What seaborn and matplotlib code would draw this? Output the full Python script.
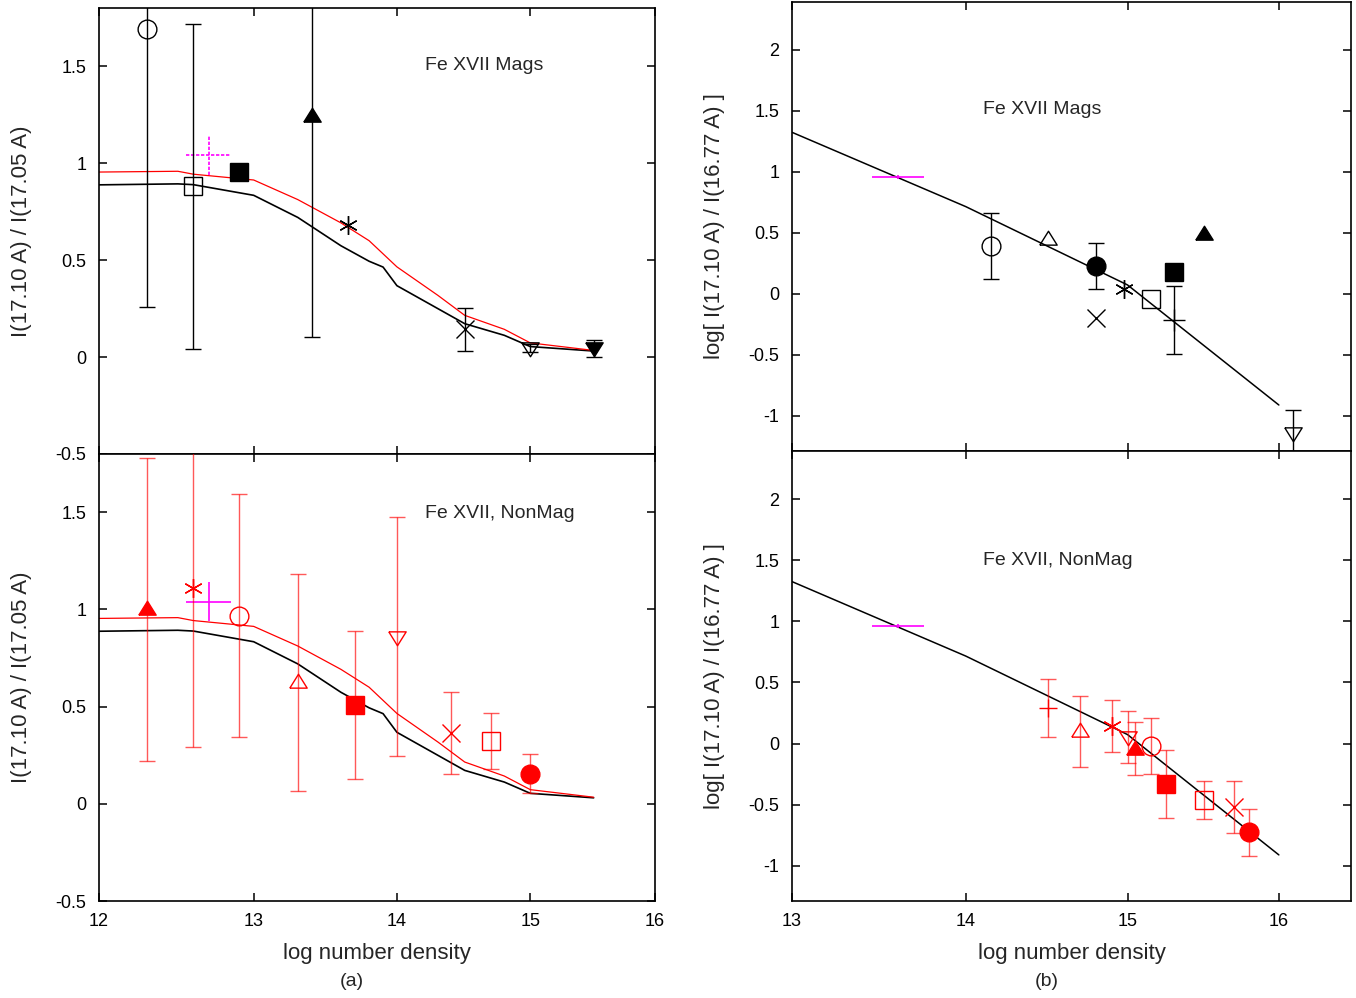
import matplotlib
matplotlib.use("Agg")
import matplotlib.pyplot as plt
from matplotlib.ticker import FixedLocator, NullLocator, FuncFormatter
import seaborn as sns

# ---------------- model curves ----------------
# panel (a): I(17.10)/I(17.05) versus log density
model_a_black_x = [12.0, 12.5, 12.6, 13.0, 13.3, 13.6, 13.8, 13.9, 14.0, 14.5, 14.8, 15.0, 15.5]
model_a_black_y = [0.888, 0.893, 0.889, 0.834, 0.720, 0.574, 0.494, 0.464, 0.368, 0.172, 0.112, 0.054, 0.031]
model_a_red_x = [12.0, 12.5, 12.6, 13.0, 13.3, 13.6, 13.8, 14.0, 14.3, 14.5, 14.8, 15.0, 15.5]
model_a_red_y = [0.954, 0.958, 0.943, 0.913, 0.812, 0.692, 0.600, 0.465, 0.318, 0.215, 0.143, 0.073, 0.034]

# panel (b): log ratio I(17.10)/I(16.77)
model_b_x = [13.0, 14.0, 15.0, 16.0]
model_b_y = [1.325, 0.716, 0.074, -0.91]

# ---------------- observed stars ----------------
# (a) magnetic stars
mag_a_x = [12.3, 12.6, 12.9, 13.4, 13.65, 14.5, 15.0, 15.5]
mag_a_y = [1.69, 0.88, 0.955, 1.245, 0.68, 0.143, 0.045, 0.045]
mag_a_err = [1.43, 0.84, 0.0, 1.14, 0.0, 0.11, 0.02, 0.045]

# (a) non-magnetic stars
non_a_x = [12.3, 12.6, 12.9, 13.3, 13.7, 14.0, 14.4, 14.7, 15.0]
non_a_y = [1.0, 1.11, 0.968, 0.625, 0.51, 0.86, 0.364, 0.323, 0.155]
non_a_err = [0.78, 0.82, 0.625, 0.56, 0.38, 0.615, 0.21, 0.145, 0.10]

# (b) magnetic stars
mag_b_x = [14.15, 14.5, 14.8, 14.8, 14.98, 15.15, 15.3, 15.3, 15.5, 16.1]
mag_b_y = [0.396, 0.448, 0.23, -0.2, 0.038, -0.044, 0.183, -0.215, 0.492, -1.137]
mag_b_err = [0.27, 0.0, 0.186, 0.0, 0.0, 0.0, 0.0, 0.279, 0.0, 0.19]

# (b) non-magnetic stars
non_b_x = [14.5, 14.7, 14.9, 15.0, 15.05, 15.15, 15.25, 15.5, 15.7, 15.8]
non_b_y = [0.29, 0.10, 0.145, 0.055, -0.04, -0.02, -0.33, -0.459, -0.517, -0.725]
non_b_err = [0.236, 0.29, 0.21, 0.21, 0.22, 0.227, 0.28, 0.156, 0.21, 0.19]

# solar reference point (magenta)
sun_a_x, sun_a_y, sun_a_xerr, sun_a_yerr = 12.7, 1.04, 0.15, 0.10
sun_b_x, sun_b_y, sun_b_xerr, sun_b_yerr = 13.6, 0.96, 0.15, 0.015

# ---------------- symbol styles ----------------
AST = (6, 2, 0)
TUP = [(-1, -0.65), (1, -0.65), (0, 0.95), (-1, -0.65)]
TDN = [(-1, 0.65), (1, 0.65), (0, -0.95), (-1, 0.65)]
mag_a_sym = [("o", False), ("s", False), ("s", True), (TUP, True), (AST, False),
             ("x", False), (TDN, False), (TDN, True)]
non_a_sym = [(TUP, True), (AST, False), ("o", False), (TUP, False), ("s", True),
             (TDN, False), ("x", False), ("s", False), ("o", True)]
mag_b_sym = [("o", False), (TUP, False), ("o", True), ("x", False), (AST, False),
             ("s", False), ("s", True), ("+", False), (TUP, True), (TDN, False)]
non_b_sym = [("+", False), (TUP, False), (AST, False), (TDN, False), (TUP, True),
             ("o", False), ("s", True), ("s", False), ("x", False), ("o", True)]

sns.set_theme(style="ticks")
plt.rcParams["font.family"] = ["Liberation Sans", "DejaVu Sans"]
plt.rcParams["axes.unicode_minus"] = False

W, H = 1356, 998
fig = plt.figure(figsize=(W / 100, H / 100), dpi=100)
fig.patch.set_facecolor("white")


def axes_px(x0, y0, x1, y1):
    return fig.add_axes([x0 / W, 1 - y1 / H, (x1 - x0) / W, (y1 - y0) / H])


ax_a_top = axes_px(99, 8, 655, 454)
ax_a_bot = axes_px(99, 454, 655, 901)
ax_b_top = axes_px(792, 2, 1351, 451)
ax_b_bot = axes_px(792, 451, 1351, 901)

fmt = FuncFormatter(lambda v, p: "%g" % v)


def style_axes(ax, xlim, xticks, ylim, yticks, show_xlabels):
    ax.set_facecolor("white")
    ax.set_xscale("log")
    ax.set_xlim(*xlim)
    ax.set_ylim(*ylim)
    ax.xaxis.set_major_locator(FixedLocator(xticks))
    ax.xaxis.set_minor_locator(NullLocator())
    ax.xaxis.set_major_formatter(fmt)
    ax.yaxis.set_major_locator(FixedLocator(yticks))
    ax.yaxis.set_minor_locator(NullLocator())
    ax.yaxis.set_major_formatter(fmt)
    ax.tick_params(which="major", direction="in", length=6, width=1.1,
                   top=True, right=True, labelsize=13, pad=9, colors="black")
    if not show_xlabels:
        ax.tick_params(labelbottom=False)
    for s in ax.spines.values():
        s.set_linewidth(1.2)
        s.set_color("black")
    ax.grid(False)


def draw_points(ax, xs, ys, errs, syms, color, ecolor, ealpha):
    for x, y, e, (m, filled) in zip(xs, ys, errs, syms):
        ms = 13.5
        if isinstance(m, list):
            ms = 12.5
        if m == "+":
            ms = 16 if color == "black" else 13
        if e > 0:
            ax.errorbar(x, y, yerr=e, fmt="none", ecolor=ecolor, alpha=ealpha,
                        elinewidth=1.0, capsize=5.5, capthick=1.0, zorder=3)
        ax.plot([x], [y], linestyle="none", marker=m, ms=ms,
                mfc=color if filled else "none", mec=color, mew=1.0, zorder=4)


def draw_sun(ax, x, y, xerr, yerr, ls):
    eb = ax.errorbar(x, y, xerr=xerr, yerr=yerr, fmt="none", ecolor="#ff00ff",
                     elinewidth=1.2, capsize=0, zorder=3)
    for lc in eb[2]:
        lc.set_linestyle(ls)


# panel (a)
for ax, label in [(ax_a_top, "Fe XVII Mags"), (ax_a_bot, "Fe XVII, NonMag")]:
    style_axes(ax, (12, 16), [12, 13, 14, 15, 16], (-0.5, 1.8),
               [-0.5, 0, 0.5, 1, 1.5], ax is ax_a_bot)
    sns.lineplot(x=model_a_black_x, y=model_a_black_y, ax=ax, color="black",
                 lw=1.2, sort=False, estimator=None, zorder=2)
    sns.lineplot(x=model_a_red_x, y=model_a_red_y, ax=ax, color="red",
                 lw=0.9, sort=False, estimator=None, zorder=2)
    ax.set_ylabel("I(17.10 A) / I(17.05 A)", fontsize=16, labelpad=17)
    ax.text(0.586, 0.872 if ax is ax_a_top else 0.866, label, transform=ax.transAxes,
            fontsize=14, ha="left", va="center")

draw_sun(ax_a_top, sun_a_x, sun_a_y, sun_a_xerr, sun_a_yerr, (0, (2, 1)))
draw_points(ax_a_top, mag_a_x, mag_a_y, mag_a_err, mag_a_sym, "black", "black", 1.0)
draw_sun(ax_a_bot, sun_a_x, sun_a_y, sun_a_xerr, sun_a_yerr, "-")
draw_points(ax_a_bot, non_a_x, non_a_y, non_a_err, non_a_sym, "red", "red", 0.65)
ax_a_bot.set_xlabel("log number density", fontsize=16, labelpad=9)

# panel (b)
for ax, label in [(ax_b_top, "Fe XVII Mags"), (ax_b_bot, "Fe XVII, NonMag")]:
    style_axes(ax, (13, 16.5), [13, 14, 15, 16], (-1.287, 2.393),
               [-1, -0.5, 0, 0.5, 1, 1.5, 2], ax is ax_b_bot)
    sns.lineplot(x=model_b_x, y=model_b_y, ax=ax, color="black",
                 lw=1.1, sort=False, estimator=None, zorder=2)
    ax.set_ylabel("log[ I(17.10 A) / I(16.77 A) ]", fontsize=16, labelpad=17)
    ax.text(0.3417, 0.7595 if ax is ax_b_top else 0.7556, label, transform=ax.transAxes,
            fontsize=14, ha="left", va="center")

draw_sun(ax_b_top, sun_b_x, sun_b_y, sun_b_xerr, sun_b_yerr, "-")
draw_points(ax_b_top, mag_b_x, mag_b_y, mag_b_err, mag_b_sym, "black", "black", 1.0)
draw_sun(ax_b_bot, sun_b_x, sun_b_y, sun_b_xerr, sun_b_yerr, "-")
draw_points(ax_b_bot, non_b_x, non_b_y, non_b_err, non_b_sym, "red", "red", 0.65)
ax_b_bot.set_xlabel("log number density", fontsize=16, labelpad=9)

fig.text(352 / W, 1 - 982 / H, "(a)", ha="center", va="center", fontsize=14)
fig.text(1047 / W, 1 - 982 / H, "(b)", ha="center", va="center", fontsize=14)

fig.savefig("out.png", dpi=100, facecolor="white")
